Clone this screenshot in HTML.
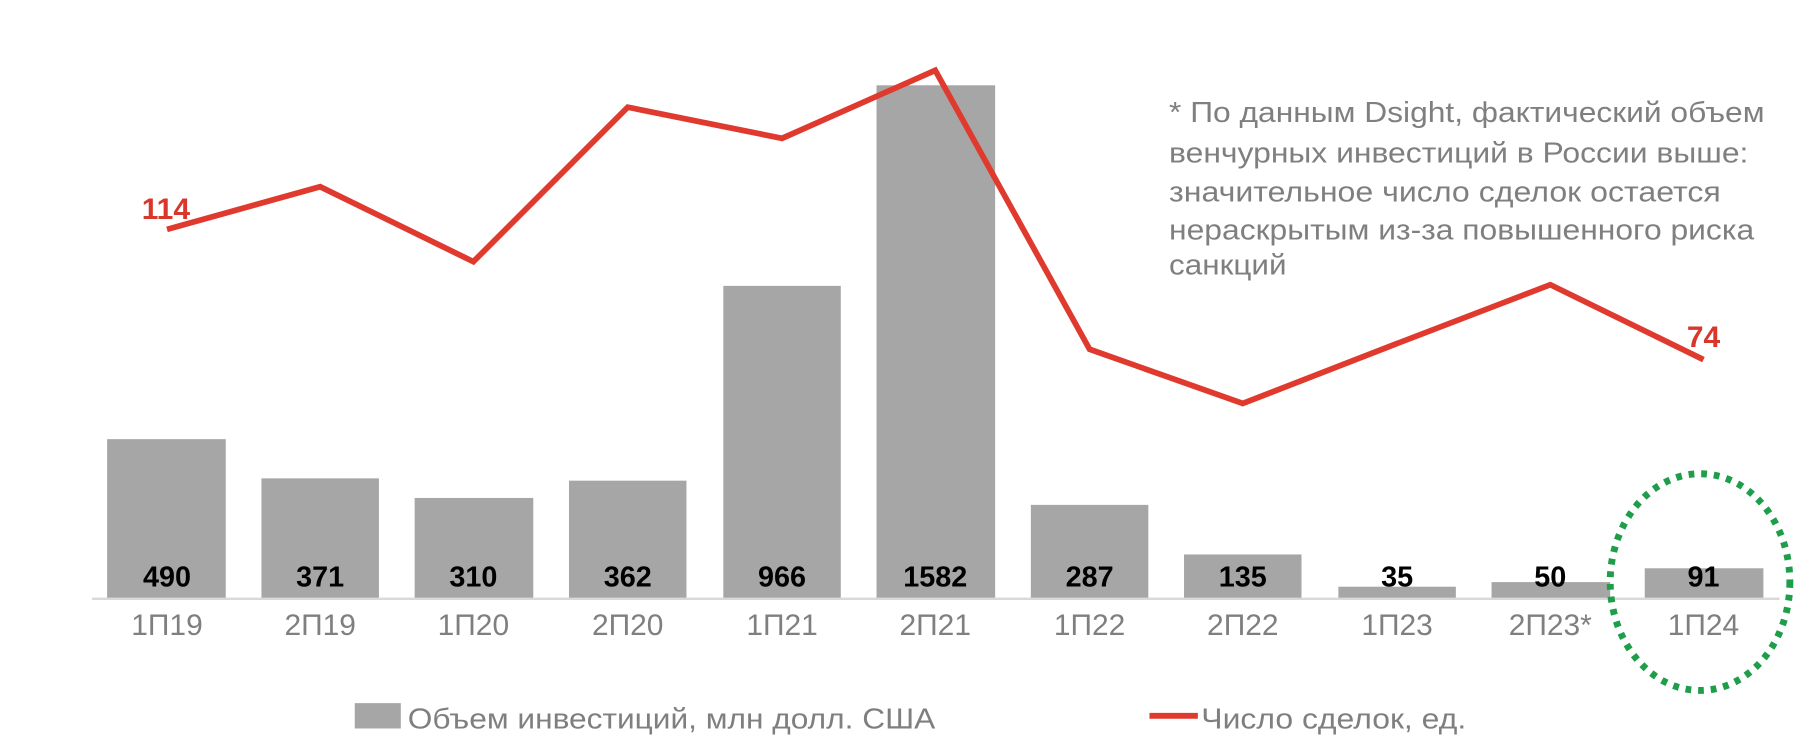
<!DOCTYPE html>
<html><head><meta charset="utf-8"><style>html,body{margin:0;padding:0;background:#fff;}svg{display:block;}</style></head>
<body>
<svg width="1806" height="755" viewBox="0 0 1568 655" preserveAspectRatio="none" xmlns="http://www.w3.org/2000/svg" font-family="Liberation Sans, Arial, sans-serif">
<rect width="1568" height="655" fill="#fff"/>
<g fill="#a6a6a6">
<rect x="93" y="381" width="103" height="138"/>
<rect x="227" y="415" width="102" height="104"/>
<rect x="360" y="432" width="103" height="87"/>
<rect x="494" y="417" width="102" height="102"/>
<rect x="628" y="248" width="102" height="271"/>
<rect x="761" y="74" width="103" height="445"/>
<rect x="895" y="438" width="102" height="81"/>
<rect x="1028" y="481" width="102" height="38"/>
<rect x="1162" y="509" width="102" height="10"/>
<rect x="1295" y="505" width="103" height="14"/>
<rect x="1428" y="493" width="103" height="26"/>
</g>
<line x1="80" y1="519.5" x2="1545" y2="519.5" stroke="#d9d9d9" stroke-width="2"/>
<g font-size="25" font-weight="bold" fill="#000" text-anchor="middle">
<text x="145" y="509">490</text><text x="278" y="509">371</text><text x="411" y="509">310</text><text x="545" y="509">362</text><text x="679" y="509">966</text><text x="812" y="509">1582</text><text x="946" y="509">287</text><text x="1079" y="509">135</text><text x="1213" y="509">35</text><text x="1346" y="509">50</text><text x="1479" y="509">91</text>
</g>
<g font-size="26" fill="#7f7f7f" text-anchor="middle">
<text x="145" y="551">1П19</text><text x="278" y="551">2П19</text><text x="411" y="551">1П20</text><text x="545" y="551">2П20</text><text x="679" y="551">1П21</text><text x="812" y="551">2П21</text><text x="946" y="551">1П22</text><text x="1079" y="551">2П22</text><text x="1213" y="551">1П23</text><text x="1346" y="551">2П23*</text><text x="1479" y="551">1П24</text>
</g>
<polyline points="145,199 278,162 411,227 545,93 679,120 812,61 946,303 1079,350 1213,298 1346,247 1479,312" fill="none" stroke="#e0392e" stroke-width="5" stroke-linejoin="miter"/>
<g font-size="26" font-weight="bold" fill="#d9372b" text-anchor="middle">
<text x="144" y="190">114</text><text x="1479" y="301">74</text>
</g>
<g font-size="25" fill="#7f7f7f">
<text x="1015" y="106" textLength="517" lengthAdjust="spacingAndGlyphs">* По данным Dsight, фактический объем</text>
<text x="1015" y="141" textLength="503" lengthAdjust="spacingAndGlyphs">венчурных инвестиций в России выше:</text>
<text x="1015" y="175" textLength="479" lengthAdjust="spacingAndGlyphs">значительное число сделок остается</text>
<text x="1015" y="208" textLength="508" lengthAdjust="spacingAndGlyphs">нераскрытым из-за повышенного риска</text>
<text x="1015" y="238" textLength="102" lengthAdjust="spacingAndGlyphs">санкций</text>
</g>
<ellipse cx="1476" cy="505" rx="78" ry="94" fill="none" stroke="#1e9e4a" stroke-width="6" stroke-dasharray="5 6"/>
<rect x="308" y="610" width="40" height="22" fill="#a6a6a6"/>
<text x="354" y="632" font-size="25" fill="#7f7f7f" textLength="458" lengthAdjust="spacingAndGlyphs">Объем инвестиций, млн долл. США</text>
<line x1="998" y1="621" x2="1040" y2="621" stroke="#e0392e" stroke-width="5"/>
<text x="1043" y="632" font-size="25" fill="#7f7f7f" textLength="230" lengthAdjust="spacingAndGlyphs">Число сделок, ед.</text>
</svg>
</body></html>
